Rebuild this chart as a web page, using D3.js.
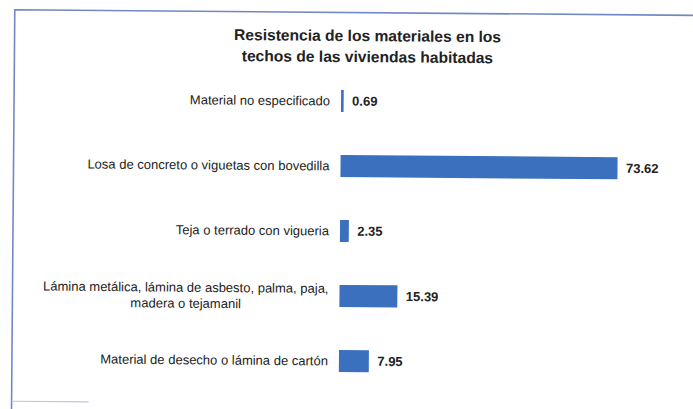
<!DOCTYPE html>
<html>
<head>
<meta charset="utf-8">
<script src="https://cdn.jsdelivr.net/npm/d3@7"></script>
<style>
  body { margin: 0; background: #fff; }
  svg { display: block; font-family: "Liberation Sans", Arial, sans-serif; }
</style>
</head>
<body>
<svg id="chart"></svg>
<script>
// data
const categories = [
  "Material no especificado",
  "Losa de concreto o viguetas con bovedilla",
  "Teja o terrado con vigueria",
  "Lámina metálica, lámina de asbesto, palma, paja,|madera o tejamanil",
  "Material de desecho o lámina de cartón"
];
const values = [0.69, 73.62, 2.35, 15.39, 7.95];
const valueLabels = ["0.69", "73.62", "2.35", "15.39", "7.95"];
const titleLines = ["Resistencia de los materiales en los", "techos de las viviendas habitadas"];

const width = 693, height = 409;
const svg = d3.select("#chart").attr("width", width).attr("height", height);

// the scan is tilted a little, so draw everything in a slightly rotated group
const g = svg.append("g").attr("transform", "rotate(0.47, 346, 230)");

// frame of the scanned box
g.append("path")
  .attr("d", "M13,430 L13,12.5 L720,12.5")
  .attr("fill", "none")
  .attr("stroke", "#7088c4")
  .attr("stroke-width", 1.6);
g.append("line")
  .attr("x1", 13).attr("x2", 90).attr("y1", 404).attr("y2", 404)
  .attr("stroke", "#b8c6e6").attr("stroke-width", 1.2);

// title
g.append("text")
  .attr("x", 366)
  .attr("text-anchor", "middle")
  .attr("font-size", 15.6)
  .attr("font-weight", "bold")
  .attr("fill", "#222")
  .selectAll("tspan")
  .data(titleLines)
  .join("tspan")
  .attr("x", 366)
  .attr("y", (d, i) => 41 + i * 21)
  .text(d => d);

const x = d3.scaleLinear().domain([0, 80]).range([340, 641]);
const y = d3.scaleBand().domain(categories).range([68.5, 393.5])
  .paddingInner(0.66).paddingOuter(0.33);

// bars
g.selectAll("rect.bar")
  .data(values)
  .join("rect")
  .attr("class", "bar")
  .attr("x", x(0))
  .attr("y", (d, i) => y(categories[i]))
  .attr("width", d => x(d) - x(0))
  .attr("height", y.bandwidth())
  .attr("fill", "#3a70bd");

// value labels
g.selectAll("text.val")
  .data(values)
  .join("text")
  .attr("class", "val")
  .attr("x", d => x(d) + 8.5)
  .attr("y", (d, i) => y(categories[i]) + y.bandwidth() / 2)
  .attr("dy", "0.35em")
  .attr("font-size", 13)
  .attr("font-weight", "bold")
  .attr("fill", "#222")
  .text((d, i) => valueLabels[i]);

// category labels, split on "|" for two-line labels
const labelRight = 329;
categories.forEach((c, i) => {
  const lines = c.split("|");
  const cy = y(c) + y.bandwidth() / 2;
  const t = g.append("text")
    .attr("font-size", 13)
    .attr("fill", "#222");
  if (lines.length === 1) {
    t.attr("x", labelRight).attr("y", cy).attr("dy", "0.35em")
      .attr("text-anchor", "end").text(c);
  } else {
    const first = t.append("tspan")
      .attr("x", labelRight).attr("y", cy - 7.5).attr("dy", "0.35em")
      .attr("text-anchor", "end").text(lines[0]);
    const w = first.node().getComputedTextLength();
    t.append("tspan")
      .attr("x", labelRight - w / 2).attr("y", cy + 8.5).attr("dy", "0.35em")
      .attr("text-anchor", "middle").text(lines[1]);
  }
});
</script>
</body>
</html>
